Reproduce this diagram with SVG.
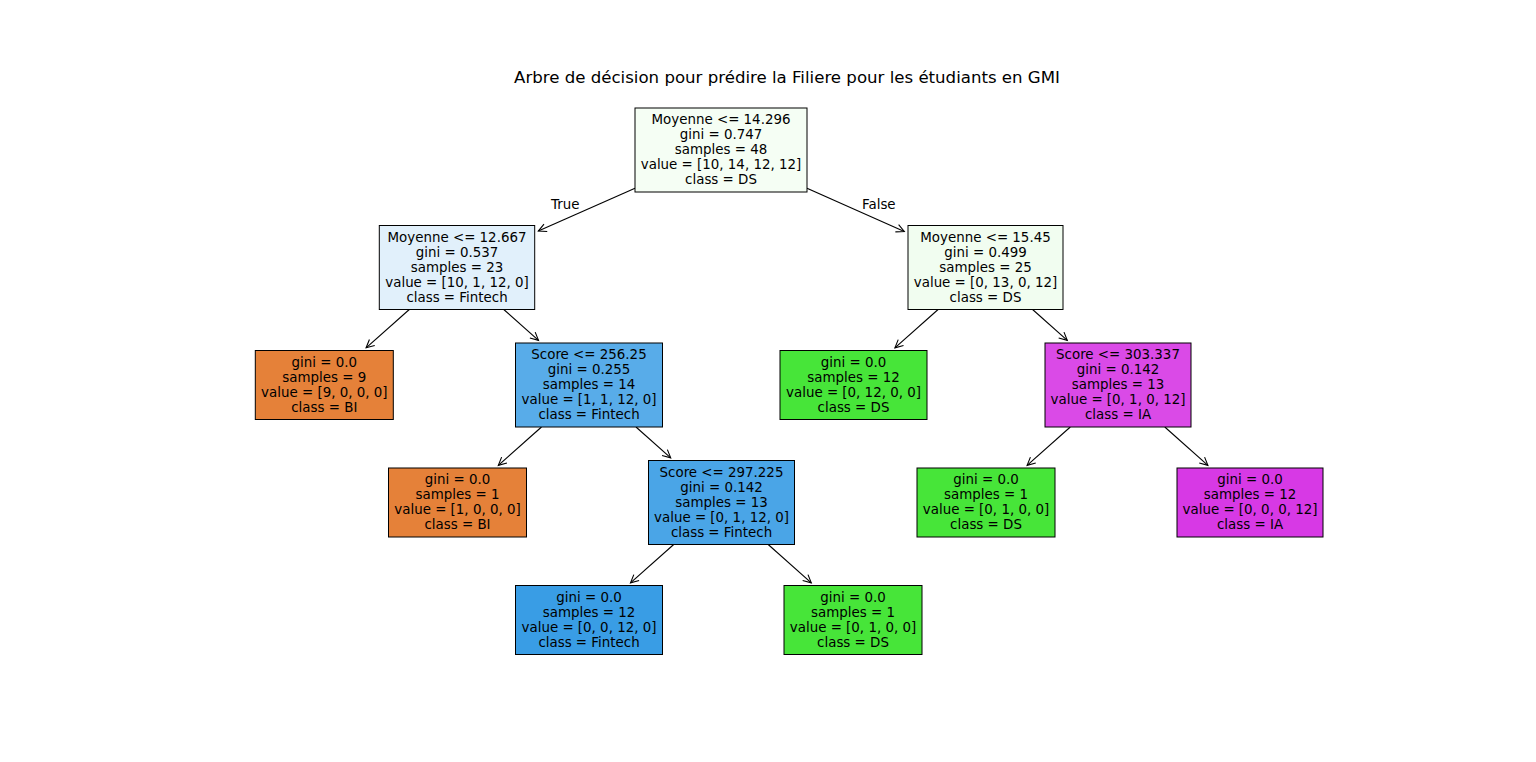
<svg xmlns="http://www.w3.org/2000/svg" width="1536" height="762" viewBox="0 0 1536 762">
<style>
  .t { font-family: "DejaVu Sans", "Liberation Sans", sans-serif; font-size: 13.4px; fill: #000; text-anchor: middle; }
  .title { font-family: "DejaVu Sans", "Liberation Sans", sans-serif; font-size: 16.6px; fill: #000; text-anchor: middle; }
  .box { stroke: #000; stroke-width: 1; }
  .edge { stroke: #000; stroke-width: 1.1; fill: none; marker-end: url(#arr); }
</style>
<defs>
  <marker id="arr" markerUnits="userSpaceOnUse" viewBox="-10 -6 12 12" refX="0" refY="0" markerWidth="12" markerHeight="12" orient="auto">
    <path d="M-8,-4 L0,0 L-8,4" fill="none" stroke="#000" stroke-width="1.1"/>
  </marker>
</defs>
<rect width="1536" height="762" fill="#fff"/>
<text class="title" x="787" y="83">Arbre de décision pour prédire la Filiere pour les étudiants en GMI</text>

<g id="connectors">
  <line class="edge" x1="635" y1="188.2" x2="538.3" y2="231.1"/>
  <line class="edge" x1="807" y1="188.2" x2="904.3" y2="231.5"/>
  <line class="edge" x1="409.3" y1="309.5" x2="366.1" y2="347.8"/>
  <line class="edge" x1="503.8" y1="309.5" x2="538.5" y2="340.4"/>
  <line class="edge" x1="938.1" y1="309.5" x2="894.9" y2="347.9"/>
  <line class="edge" x1="1032.6" y1="309.5" x2="1067.3" y2="340.4"/>
  <line class="edge" x1="541.5" y1="427" x2="498.3" y2="465.4"/>
  <line class="edge" x1="636" y1="427" x2="670.7" y2="457.9"/>
  <line class="edge" x1="1070.3" y1="427" x2="1027.1" y2="465.4"/>
  <line class="edge" x1="1164.8" y1="427" x2="1207.9" y2="465.4"/>
  <line class="edge" x1="673.7" y1="544.5" x2="630.5" y2="582.9"/>
  <line class="edge" x1="768.2" y1="544.5" x2="811.3" y2="582.9"/>
  <text class="t" x="565.3" y="208.5">True</text>
  <text class="t" x="878.8" y="208.5">False</text>
</g>

<g id="n0">
  <rect class="box" x="635" y="108" width="172" height="84" fill="#f5fef4"/>
  <text class="t" x="721" y="124.2">Moyenne &lt;= 14.296</text>
  <text class="t" x="721" y="139.2">gini = 0.747</text>
  <text class="t" x="721" y="154.2">samples = 48</text>
  <text class="t" x="721" y="169.2">value = [10, 14, 12, 12]</text>
  <text class="t" x="721" y="184.2">class = DS</text>
</g>

<g id="n1">
  <rect class="box" x="379.3" y="225.5" width="155.4" height="84" fill="#e1f0fb"/>
  <text class="t" x="457" y="241.7">Moyenne &lt;= 12.667</text>
  <text class="t" x="457" y="256.7">gini = 0.537</text>
  <text class="t" x="457" y="271.7">samples = 23</text>
  <text class="t" x="457" y="286.7">value = [10, 1, 12, 0]</text>
  <text class="t" x="457" y="301.7">class = Fintech</text>
</g>

<g id="n2">
  <rect class="box" x="908" y="225.5" width="155" height="84" fill="#f1fdf0"/>
  <text class="t" x="985.5" y="241.7">Moyenne &lt;= 15.45</text>
  <text class="t" x="985.5" y="256.7">gini = 0.499</text>
  <text class="t" x="985.5" y="271.7">samples = 25</text>
  <text class="t" x="985.5" y="286.7">value = [0, 13, 0, 12]</text>
  <text class="t" x="985.5" y="301.7">class = DS</text>
</g>

<g id="n3">
  <rect class="box" x="255.3" y="350.5" width="138" height="69" fill="#e58139"/>
  <text class="t" x="324.3" y="366.7">gini = 0.0</text>
  <text class="t" x="324.3" y="381.7">samples = 9</text>
  <text class="t" x="324.3" y="396.7">value = [9, 0, 0, 0]</text>
  <text class="t" x="324.3" y="411.7">class = BI</text>
</g>

<g id="n4">
  <rect class="box" x="515.5" y="343" width="147" height="84" fill="#58ace9"/>
  <text class="t" x="589" y="359.2">Score &lt;= 256.25</text>
  <text class="t" x="589" y="374.2">gini = 0.255</text>
  <text class="t" x="589" y="389.2">samples = 14</text>
  <text class="t" x="589" y="404.2">value = [1, 1, 12, 0]</text>
  <text class="t" x="589" y="419.2">class = Fintech</text>
</g>

<g id="n5">
  <rect class="box" x="780" y="350.5" width="147" height="69" fill="#47e539"/>
  <text class="t" x="853.5" y="366.7">gini = 0.0</text>
  <text class="t" x="853.5" y="381.7">samples = 12</text>
  <text class="t" x="853.5" y="396.7">value = [0, 12, 0, 0]</text>
  <text class="t" x="853.5" y="411.7">class = DS</text>
</g>

<g id="n6">
  <rect class="box" x="1045" y="343" width="146" height="84" fill="#da4ae7"/>
  <text class="t" x="1118" y="359.2">Score &lt;= 303.337</text>
  <text class="t" x="1118" y="374.2">gini = 0.142</text>
  <text class="t" x="1118" y="389.2">samples = 13</text>
  <text class="t" x="1118" y="404.2">value = [0, 1, 0, 12]</text>
  <text class="t" x="1118" y="419.2">class = IA</text>
</g>

<g id="n7">
  <rect class="box" x="388.5" y="468" width="138" height="69" fill="#e58139"/>
  <text class="t" x="457.5" y="484.2">gini = 0.0</text>
  <text class="t" x="457.5" y="499.2">samples = 1</text>
  <text class="t" x="457.5" y="514.2">value = [1, 0, 0, 0]</text>
  <text class="t" x="457.5" y="529.2">class = BI</text>
</g>

<g id="n8">
  <rect class="box" x="648.5" y="460.5" width="146" height="84" fill="#4aa5e7"/>
  <text class="t" x="721.5" y="476.7">Score &lt;= 297.225</text>
  <text class="t" x="721.5" y="491.7">gini = 0.142</text>
  <text class="t" x="721.5" y="506.7">samples = 13</text>
  <text class="t" x="721.5" y="521.7">value = [0, 1, 12, 0]</text>
  <text class="t" x="721.5" y="536.7">class = Fintech</text>
</g>

<g id="n9">
  <rect class="box" x="917" y="468" width="138" height="69" fill="#47e539"/>
  <text class="t" x="986" y="484.2">gini = 0.0</text>
  <text class="t" x="986" y="499.2">samples = 1</text>
  <text class="t" x="986" y="514.2">value = [0, 1, 0, 0]</text>
  <text class="t" x="986" y="529.2">class = DS</text>
</g>

<g id="n10">
  <rect class="box" x="1177" y="468" width="146" height="69" fill="#d739e5"/>
  <text class="t" x="1250" y="484.2">gini = 0.0</text>
  <text class="t" x="1250" y="499.2">samples = 12</text>
  <text class="t" x="1250" y="514.2">value = [0, 0, 0, 12]</text>
  <text class="t" x="1250" y="529.2">class = IA</text>
</g>

<g id="n11">
  <rect class="box" x="515.5" y="585.5" width="147" height="69" fill="#399de5"/>
  <text class="t" x="589" y="601.7">gini = 0.0</text>
  <text class="t" x="589" y="616.7">samples = 12</text>
  <text class="t" x="589" y="631.7">value = [0, 0, 12, 0]</text>
  <text class="t" x="589" y="646.7">class = Fintech</text>
</g>

<g id="n12">
  <rect class="box" x="784" y="585.5" width="138" height="69" fill="#47e539"/>
  <text class="t" x="853" y="601.7">gini = 0.0</text>
  <text class="t" x="853" y="616.7">samples = 1</text>
  <text class="t" x="853" y="631.7">value = [0, 1, 0, 0]</text>
  <text class="t" x="853" y="646.7">class = DS</text>
</g>
</svg>
